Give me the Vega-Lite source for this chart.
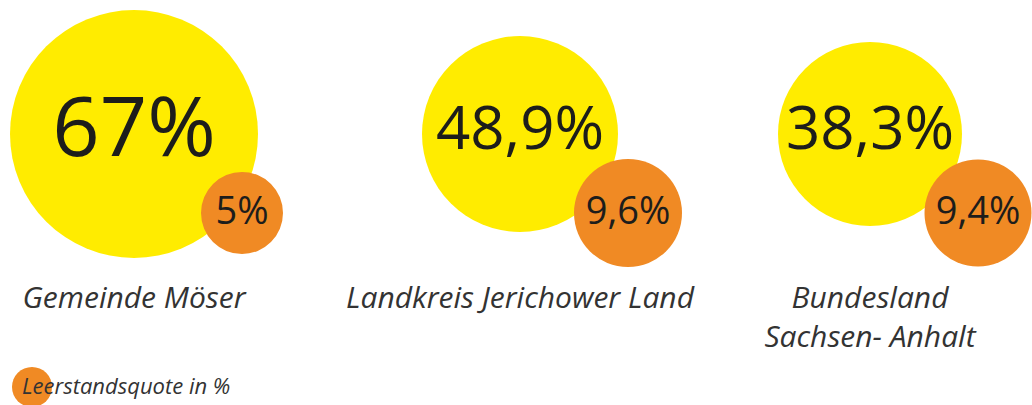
{
  "$schema": "https://vega.github.io/schema/vega-lite/v6.json",
  "width": 1032,
  "height": 405,
  "autosize": {"type": "fit", "contains": "padding"},
  "padding": 0,
  "background": "#ffffff",
  "config": {"view": {"stroke": null}, "font": "Open Sans"},
  "data": {
    "values": [
      {"region": "Gemeinde Möser", "name": "Gemeinde Möser", "nr": 1, "kind": "Anteil in %", "value": 67, "label": "67%"},
      {"region": "Landkreis Jerichower Land", "name": "Landkreis Jerichower Land", "nr": 2, "kind": "Anteil in %", "value": 48.9, "label": "48,9%"},
      {"region": "Bundesland Sachsen-Anhalt", "name": "Bundesland\nSachsen- Anhalt", "nr": 3, "kind": "Anteil in %", "value": 38.3, "label": "38,3%"},
      {"region": "Gemeinde Möser", "name": "Gemeinde Möser", "nr": 1, "kind": "Leerstandsquote in %", "value": 5, "label": "5%"},
      {"region": "Landkreis Jerichower Land", "name": "Landkreis Jerichower Land", "nr": 2, "kind": "Leerstandsquote in %", "value": 9.6, "label": "9,6%"},
      {"region": "Bundesland Sachsen-Anhalt", "name": "Bundesland\nSachsen- Anhalt", "nr": 3, "kind": "Leerstandsquote in %", "value": 9.4, "label": "9,4%"}
    ]
  },
  "encoding": {
    "x": {"field": "nr", "type": "quantitative", "axis": null,
          "scale": {"domain": [1, 2, 3], "range": [134, 520, 870], "zero": false, "nice": false}},
    "y": {"field": "kind", "type": "nominal", "axis": null,
          "scale": {"type": "point", "domain": ["Anteil in %", "Leerstandsquote in %"], "range": [134, 213], "padding": 0}}
  },
  "layer": [
    {
      "transform": [{"filter": "datum.kind === 'Anteil in %'"}],
      "mark": {"type": "circle", "opacity": 1, "strokeWidth": 0},
      "encoding": {
        "size": {"field": "value", "type": "quantitative", "legend": null,
                 "scale": {"domain": [5, 9.6, 38.3, 48.9, 67], "range": [6724, 11664, 33856, 38416, 61504]}},
        "color": {"field": "kind", "type": "nominal",
                  "scale": {"domain": ["Anteil in %", "Leerstandsquote in %"], "range": ["#FFEC00", "#F08A24"]},
                  "legend": {"values": ["Leerstandsquote in %"], "title": null, "orient": "none",
                             "legendX": 12, "legendY": 367, "padding": 0,
                             "symbolType": "circle", "symbolSize": 1600, "symbolStrokeWidth": 0, "symbolOpacity": 1,
                             "labelOffset": -30, "labelFont": "Open Sans", "labelFontStyle": "italic",
                             "labelFontSize": 22, "labelColor": "#333333", "labelBaseline": "middle", "labelLimit": 400}}
      }
    },
    {
      "transform": [{"filter": "datum.kind === 'Leerstandsquote in %'"}],
      "mark": {"type": "circle", "opacity": 1, "strokeWidth": 0, "xOffset": 108},
      "encoding": {
        "size": {"field": "value", "type": "quantitative", "legend": null,
                 "scale": {"domain": [5, 9.6, 38.3, 48.9, 67], "range": [6724, 11664, 33856, 38416, 61504]}},
        "color": {"field": "kind", "type": "nominal"}
      }
    },
    {
      "transform": [{"filter": "datum.kind === 'Anteil in %'"}],
      "mark": {"type": "text", "align": "center", "baseline": "middle", "dy": -3, "color": "#1d1d1b", "font": "Open Sans"},
      "encoding": {
        "text": {"field": "label"},
        "size": {"field": "value", "type": "quantitative", "legend": null,
                 "scale": {"domain": [38.3, 48.9, 67], "range": [60, 60, 83]}}
      }
    },
    {
      "transform": [{"filter": "datum.kind === 'Leerstandsquote in %'"}],
      "mark": {"type": "text", "align": "center", "baseline": "middle", "xOffset": 108, "fontSize": 38, "color": "#1d1d1b", "font": "Open Sans"},
      "encoding": {"text": {"field": "label"}}
    },
    {
      "transform": [{"filter": "datum.kind === 'Anteil in %'"}],
      "mark": {"type": "text", "align": "center", "baseline": "alphabetic", "dy": 174, "fontSize": 30,
               "fontStyle": "italic", "color": "#333333", "font": "Open Sans", "lineBreak": "\n", "lineHeight": 39},
      "encoding": {"text": {"field": "name"}}
    }
  ],
  "resolve": {"scale": {"size": "independent"}}
}
